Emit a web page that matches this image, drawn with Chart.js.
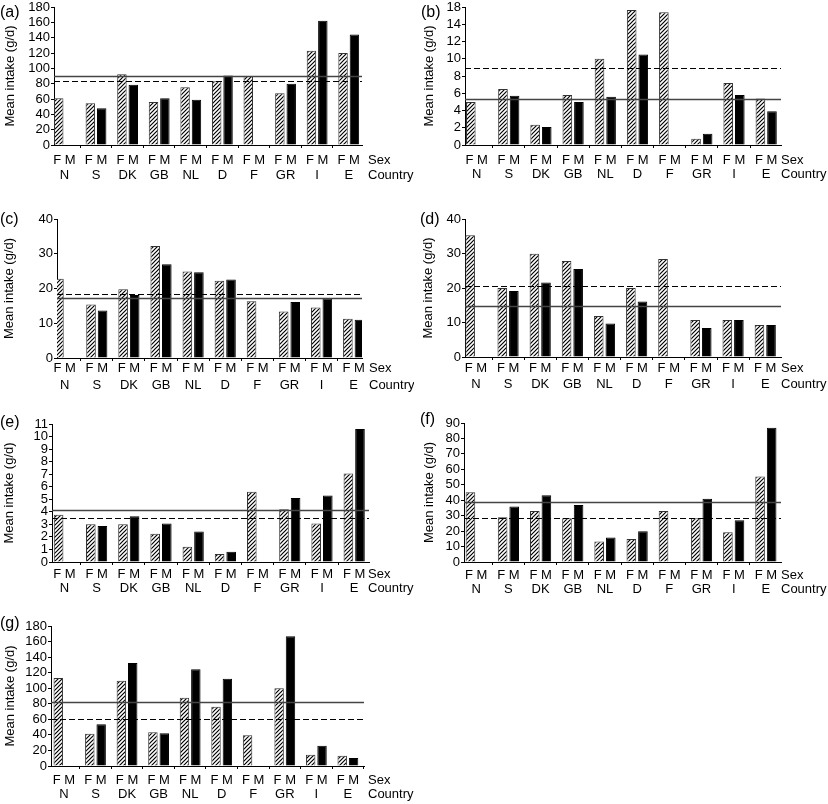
<!DOCTYPE html>
<html>
<head>
<meta charset="utf-8">
<script src="https://cdn.jsdelivr.net/npm/chart.js@4.4.1/dist/chart.umd.min.js"></script>
<style>
	body { margin: 0; background: #fff; }
	#wrap { position: relative; width: 828px; height: 804px; overflow: hidden; }
	#wrap canvas { position: absolute; }
</style>
</head>
<body>
<div id="wrap"></div>

<script>
	const countries = ['N', 'S', 'DK', 'GB', 'NL', 'D', 'F', 'GR', 'I', 'E'];
	const sexLabel = 'F M';
	const yTitle = 'Mean intake (g/d)';

	// (a)
	const femaleA = [61, 54.5, 92.4, 56, 75.4, 83, 90, 67.6, 123, 120];
	const maleA = [null, 48, 78.5, 61, 59, 90.7, null, 80, 162, 144];
	const refA = [90.2, 83.7]; // solid, dashed
	const ticksA = [0, 20, 40, 60, 80, 100, 120, 140, 160, 180];
	const labelsA = ['0', '20', '40', '60', '80', '100', '120', '140', '160', '180'];

	// (b)
	const femaleB = [5.0, 6.5, 2.35, 5.8, 10.0, 15.65, 15.4, 0.73, 7.2, 5.4];
	const maleB = [null, 5.7, 2.1, 5.0, 5.6, 10.5, null, 1.3, 5.8, 3.9];
	const refB = [5.35, 8.9];
	const ticksB = [0, 2, 4, 6, 8, 10, 12, 14, 16];
	const labelsB = ['0', '2', '4', '6', '8', '10', '12', '14', '18'];

	// (c)
	const femaleC = [22.8, 15.4, 19.8, 32.2, 24.9, 22.2, 16.3, 13.4, 14.5, 11.3];
	const maleC = [null, 13.7, 18.1, 27.0, 24.7, 22.6, null, 16.1, 17.1, 11.0];
	const refC = [17.2, 18.3];
	const ticksC = [0, 10, 20, 30, 40];
	const labelsC = ['0', '10', '20', '30', '40'];

	// (d)
	const femaleD = [35.3, 20.0, 29.9, 27.8, 11.9, 20.0, 28.4, 10.7, 10.7, 9.3];
	const maleD = [null, 19.1, 21.6, 25.5, 9.7, 16.1, null, 8.4, 10.7, 9.3];
	const refD = [14.8, 20.7];
	const ticksD = [0, 10, 20, 30, 40];
	const labelsD = ['0', '10', '20', '30', '40'];

	// (e)
	const femaleE = [3.76, 3.0, 3.0, 2.25, 1.22, 0.63, 5.6, 4.2, 3.07, 7.06];
	const maleE = [null, 2.86, 3.65, 3.07, 2.43, 0.82, null, 5.1, 5.3, 10.6];
	const refE = [4.13, 3.5];
	const ticksE = [0, 1, 2, 3, 4, 5, 6, 7, 8, 9, 10, 11];
	const labelsE = ['0', '1', '2', '3', '4', '5', '6', '7', '8', '9', '10', '11'];

	// (f)
	const femaleF = [45.1, 28.9, 33.0, 28.3, 13.2, 14.9, 33.0, 28.3, 19.2, 55.3];
	const maleF = [null, 35.9, 43.2, 36.9, 15.8, 19.9, null, 41.0, 27.0, 87.0];
	const refF = [38.9, 28.3];
	const ticksF = [0, 10, 20, 30, 40, 50, 60, 70, 80, 90];
	const labelsF = ['0', '10', '20', '30', '40', '50', '60', '70', '80', '90'];

	// (g)
	const femaleG = [113, 41.6, 109.7, 43.3, 87.9, 76.3, 39.4, 99.9, 14.6, 13.3];
	const maleG = [null, 53.6, 132.4, 42, 124.3, 112.3, null, 166.7, 26.1, 10.3];
	const refG = [82.7, 60.4];
	const ticksG = [0, 20, 40, 60, 80, 100, 120, 140, 160, 180];
	const labelsG = ['0', '20', '40', '60', '80', '100', '120', '140', '160', '180'];

	const FONT = '"Liberation Sans", Arial, Helvetica, sans-serif';
	const CW = 414, CH = 200;

	Chart.defaults.font.family = FONT;
	Chart.defaults.font.size = 13;
	Chart.defaults.color = '#000';

	function hatch() {
		let c = document.createElement('canvas');
		c.width = 4; c.height = 4;
		let g = c.getContext('2d');
		g.fillStyle = '#fff';
		g.fillRect(0, 0, 4, 4);
		g.strokeStyle = '#000';
		g.lineWidth = 1.2;
		g.beginPath();
		g.moveTo(0, 4); g.lineTo(4, 0);
		g.moveTo(-1, 1); g.lineTo(1, -1);
		g.moveTo(3, 5); g.lineTo(5, 3);
		g.stroke();
		return g.createPattern(c, 'repeat');
	}

	// solid + dashed mean lines across the plot
	const refLines = {
		id: 'refLines',
		afterDatasetsDraw(chart, args, opts) {
			let ctx = chart.ctx, a = chart.chartArea, y = chart.scales.y;
			ctx.save();
			ctx.lineWidth = 1.3;
			ctx.strokeStyle = '#444';
			let ys = Math.round(y.getPixelForValue(opts.values[0])) + 0.5;
			ctx.beginPath(); ctx.moveTo(a.left, ys); ctx.lineTo(a.right, ys); ctx.stroke();
			ctx.lineWidth = 1;
			ctx.strokeStyle = '#000';
			ctx.setLineDash([6, 3]);
			let yd = Math.round(y.getPixelForValue(opts.values[1])) + 0.5;
			ctx.beginPath(); ctx.moveTo(a.left, yd); ctx.lineTo(a.right, yd); ctx.stroke();
			ctx.restore();
		}
	};

	// panel letter and the Sex / Country row titles
	const panelText = {
		id: 'panelText',
		afterDraw(chart, args, o) {
			let ctx = chart.ctx, a = chart.chartArea;
			ctx.save();
			ctx.fillStyle = '#000';
			ctx.textBaseline = 'middle';
			ctx.textAlign = 'left';
			ctx.font = '16px ' + FONT;
			ctx.fillText(o.letter, o.lx, o.ly);
			ctx.font = '13px ' + FONT;
			ctx.fillText('Sex', o.sx, a.bottom + o.off);
			ctx.fillText('Country', o.sx, a.bottom + o.off + o.gap);
			ctx.restore();
		}
	};

	const panels = [
		{ letter: '(a)', f: femaleA, m: maleA, ref: refA, ticks: ticksA, labels: labelsA,
		  x: 0, y: -8, left: 54, right: 362, top: 7, bottom: 145, titleX: 10, lx: 0, ly: 13, sx: 368, off: 15.7, gap: 14.3, min: -0.33, max: 9.42 },
		{ letter: '(b)', f: femaleB, m: maleB, ref: refB, ticks: ticksB, labels: labelsB,
		  x: 414, y: -8, left: 465, right: 781, top: 7, bottom: 145, titleX: 429, lx: 421, ly: 13, sx: 781, off: 15, gap: 14.3, min: -0.36, max: 9.46 },
		{ letter: '(c)', f: femaleC, m: maleC, ref: refC, ticks: ticksC, labels: labelsC,
		  x: 0, y: 200, left: 57, right: 362, top: 219, bottom: 358, titleX: 9.5, lx: 0, ly: 220, sx: 369, off: 10.5, gap: 16.5, min: -0.24, max: 9.26 },
		{ letter: '(d)', f: femaleD, m: maleD, ref: refD, ticks: ticksD, labels: labelsD,
		  x: 414, y: 200, left: 465, right: 781, top: 219, bottom: 357, titleX: 428, lx: 420, ly: 220, sx: 781, off: 11, gap: 16, min: -0.34, max: 9.49 },
		{ letter: '(e)', f: femaleE, m: maleE, ref: refE, ticks: ticksE, labels: labelsE,
		  x: 0, y: 400, left: 52, right: 369, top: 424, bottom: 562, titleX: 9.5, lx: 0, ly: 423, sx: 368, off: 12.7, gap: 14, min: -0.385, max: 9.46 },
		{ letter: '(f)', f: femaleF, m: maleF, ref: refF, ticks: ticksF, labels: labelsF,
		  x: 414, y: 400, left: 464, right: 781, top: 423, bottom: 562, titleX: 429, lx: 420, ly: 420, sx: 781, off: 13.3, gap: 14, min: -0.38, max: 9.47 },
		{ letter: '(g)', f: femaleG, m: maleG, ref: refG, ticks: ticksG, labels: labelsG,
		  x: 0, y: 605, left: 51, right: 364, top: 626, bottom: 766, titleX: 10, lx: 0, ly: 624, sx: 368, off: 14.3, gap: 14, min: -0.41, max: 9.51 }
	];

	function initPanel(p) {
		let cv = document.createElement('canvas');
		cv.width = CW; cv.height = CH;
		cv.style.left = p.x + 'px';
		cv.style.top = p.y + 'px';
		document.getElementById('wrap').appendChild(cv);

		let padTop = p.top - p.y;
		let plotH = p.bottom - p.top;
		let tl = 3;

		new Chart(cv.getContext('2d'), {
			type: 'bar',
			data: {
				datasets: [{
					data: p.f.map((v, i) => ({ x: i, y: v })),
					backgroundColor: hatch(),
					borderColor: '#333',
					borderWidth: 1,
					categoryPercentage: 0.72,
					barPercentage: 0.83
				}, {
					data: p.m.map((v, i) => ({ x: i, y: v })),
					backgroundColor: '#000',
					borderColor: '#000',
					borderWidth: 1,
					categoryPercentage: 0.72,
					barPercentage: 0.83
				}]
			},
			options: {
				responsive: false,
				animation: false,
				layout: { padding: { top: padTop, left: 0, bottom: 0, right: CW - (p.right - p.x) } },
				plugins: {
					legend: { display: false },
					tooltip: { enabled: false },
					refLines: { values: p.ref },
					panelText: { letter: p.letter, lx: p.lx - p.x, ly: p.ly - p.y, sx: p.sx - p.x, off: p.off, gap: p.gap }
				},
				scales: {
					x: {
						type: 'linear',
						min: p.min,
						max: p.max,
						offset: false,
						afterBuildTicks: s => { s.ticks = countries.map((c, i) => ({ value: i })); },
						afterFit: s => { s.height = CH - padTop - plotH; },
						ticks: {
							autoSkip: false, maxRotation: 0, minRotation: 0,
							padding: p.off - tl - p.gap / 2,
							font: { size: 13, lineHeight: p.gap / 13 },
							callback: v => [sexLabel, countries[v]]
						},
						grid: { offset: true, drawOnChartArea: false, drawTicks: true, tickLength: tl, color: '#000' },
						border: { color: '#000', width: 1 }
					},
					y: {
						min: 0,
						max: p.ticks[p.ticks.length - 1],
						afterBuildTicks: s => { s.ticks = p.ticks.map(v => ({ value: v })); },
						afterFit: s => { s.width = p.left - p.x; },
						ticks: {
							autoSkip: false,
							padding: 1,
							font: { size: 13, lineHeight: 1 },
							callback: (v, i) => p.labels[i]
						},
						grid: { drawOnChartArea: false, drawTicks: true, tickLength: tl, color: '#000' },
						border: { color: '#000', width: 1 },
						title: {
							display: true,
							text: yTitle,
							font: { size: 13 },
							padding: { top: p.titleX - p.x - 7.8, bottom: 0 }
						}
					}
				}
			},
			plugins: [refLines, panelText]
		});
	}

	panels.forEach(initPanel);
</script>
</body>
</html>
